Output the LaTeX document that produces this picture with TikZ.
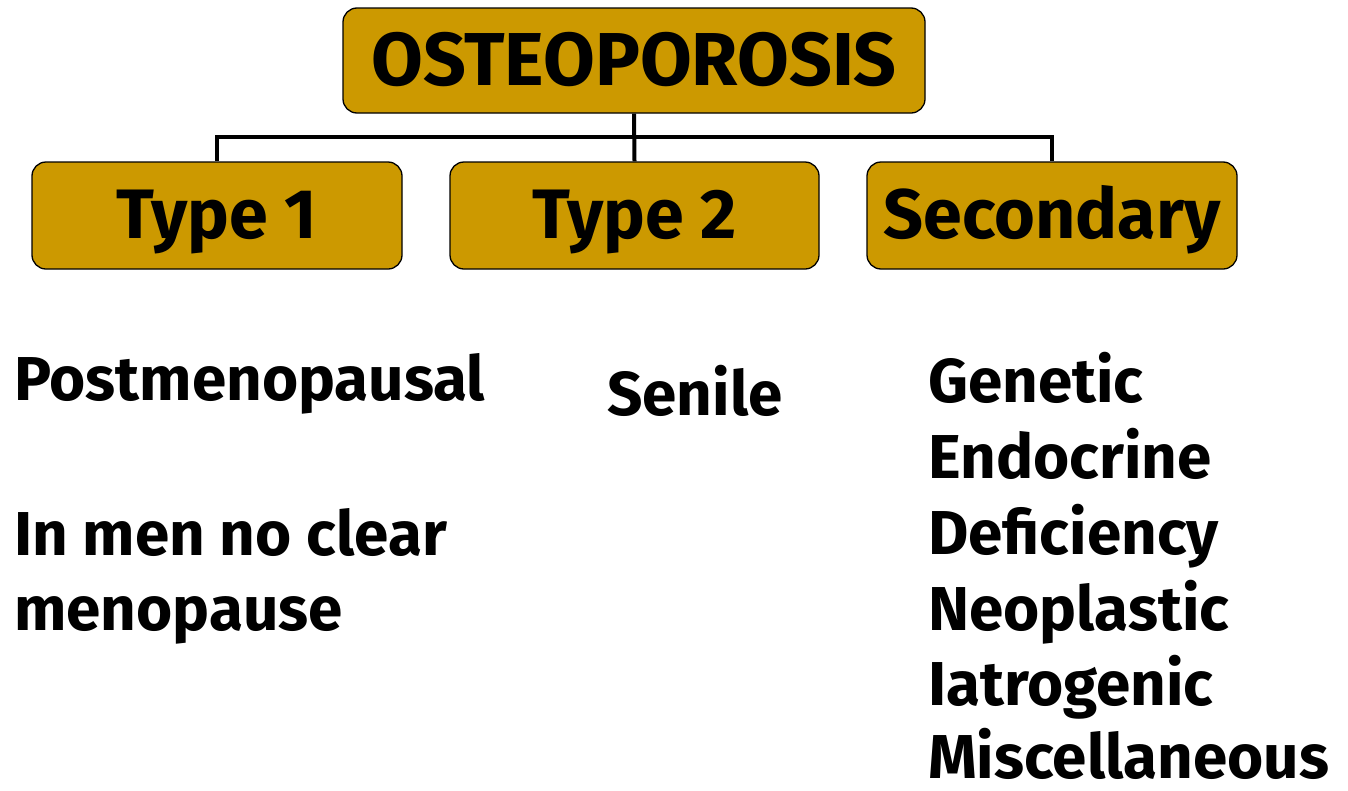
\documentclass[tikz,border=0pt]{standalone}
\usepackage{fontspec}
\setmainfont{Fira Sans}
\begin{document}
\begin{tikzpicture}[x=1pt,y=-1pt,
  box/.style={draw=black,line width=1.3pt,fill=boxfill,rounded corners=14pt,inner sep=0pt},
  lbl/.style={font=\bfseries\fontsize{62}{66}\selectfont,anchor=base west,inner sep=0pt},
  hd/.style={font=\bfseries\fontsize{70}{72}\selectfont,anchor=base,inner sep=0pt},
  link/.style={line width=4pt}]
\definecolor{boxfill}{HTML}{CC9900}
\useasboundingbox (0,0) rectangle (1348,790);
\node[box,minimum width=582pt,minimum height=105pt] (top) at (634,60.5) {};
\node[hd,font=\bfseries\fontsize{75}{76}\selectfont] (topt) at (634,85) {OSTEOPOROSIS};
\node[box,minimum width=370pt,minimum height=107pt] (t1) at (217,215.5) {};
\node[box,minimum width=369pt,minimum height=107pt] (t2) at (634.5,215.5) {};
\node[box,minimum width=370pt,minimum height=107pt] (sec) at (1052,215.5) {};
\node[hd] (t1t) at (217,238) {Type 1};
\node[hd] (t2t) at (634.5,238) {Type 2};
\node[hd] (sect) at (1052,238) {Secondary};
\coordinate (j) at (634,137);
\draw[link] (top.south) -- (t2.north);
\draw[link] (t1.north) |- (j) -| (sec.north);
\node[lbl] (pm) at (14,400) {Postmenopausal};
\node[lbl] (im) at (14,555) {In men no clear};
\node[lbl] (mp) at (14,630) {menopause};
\node[lbl] (sn) at (607,415) {Senile};
\node[lbl] (g1) at (928,402) {Genetic};
\node[lbl] (g2) at (928,478) {Endocrine};
\node[lbl] (g3) at (928,554) {Deficiency};
\node[lbl] (g4) at (928,630) {Neoplastic};
\node[lbl] (g5) at (928,705) {Iatrogenic};
\node[lbl,text depth=0pt] (g6) at (928,778) {Miscellaneous};
\end{tikzpicture}
\end{document}
